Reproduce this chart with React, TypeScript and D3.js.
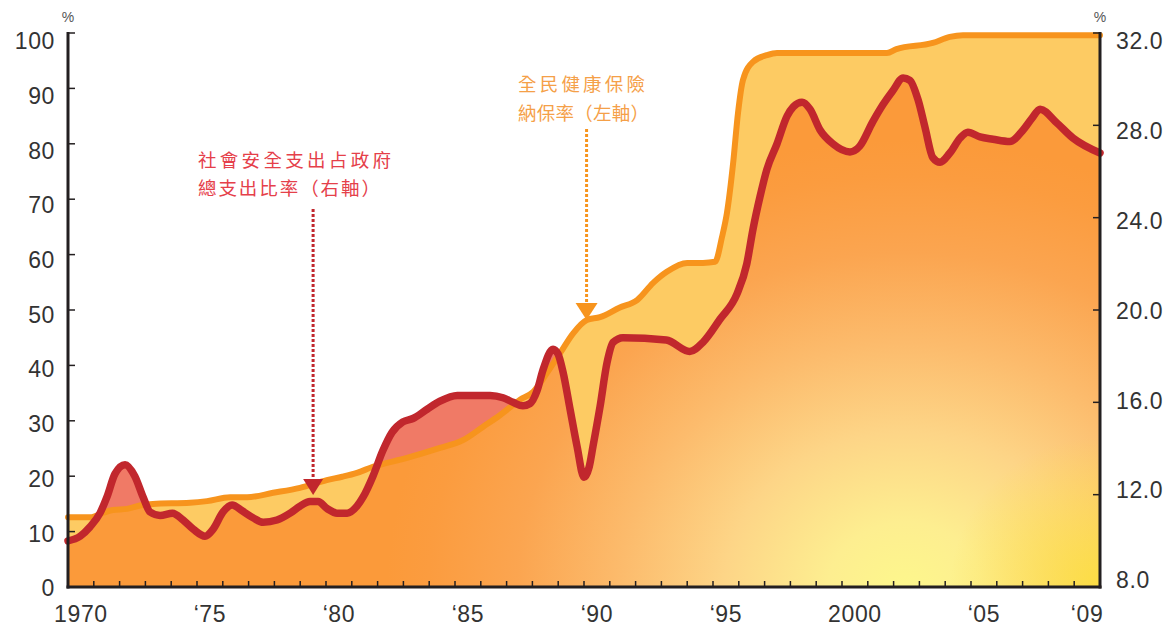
import React from 'react';
import * as d3 from 'd3';

// 全民健康保險納保率 (left axis, %)
const coverageYears = [
  1970.0, 1970.91, 1971.36, 1971.74, 1972.29, 1972.87, 1973.29, 1974.73, 1975.39, 1976.28,
  1976.94, 1977.95, 1978.99, 1980.03, 1980.63, 1981.2, 1981.82, 1983.14, 1984.42, 1985.31,
  1986.08, 1986.74, 1987.52, 1988.03, 1988.56, 1989.07, 1989.58, 1990.11, 1990.62, 1991.37,
  1992.06, 1992.68, 1993.21, 1994.0, 1994.61, 1995.08, 1995.35, 1995.54, 1995.78, 1995.97,
  1996.16, 1996.55, 1997.09, 1997.48, 2001.74, 2002.11, 2003.52, 2004.18, 2004.69, 2010.0,
];
const coverageRates = [
  12.6, 12.6, 13.4, 13.9, 14.1, 14.8, 15.0, 15.2, 15.5, 16.2,
  16.2, 17.0, 17.9, 19.3, 19.9, 20.6, 21.7, 23.3, 25.1, 26.5,
  28.9, 31.0, 33.8, 35.2, 38.6, 42.2, 45.8, 48.2, 48.7, 50.4,
  51.8, 54.9, 56.9, 58.5, 58.5, 58.7, 63.2, 67.5, 76.5, 85.6,
  91.5, 94.8, 96.0, 96.4, 96.4, 97.1, 98.2, 99.3, 99.6, 99.6,
];

// 社會安全支出占政府總支出比率 (right axis, %)
const spendingYears = [
  1970.0, 1970.47, 1970.85, 1971.24, 1971.51, 1971.82, 1972.21, 1972.59, 1972.91, 1973.18,
  1973.57, 1974.05, 1974.46, 1974.86, 1975.31, 1975.62, 1976.01, 1976.36, 1976.75, 1977.17,
  1977.56, 1978.1, 1978.61, 1978.99, 1979.38, 1979.69, 1980.04, 1980.43, 1980.82, 1981.2,
  1981.44, 1981.82, 1982.2, 1982.56, 1982.98, 1983.37, 1983.92, 1984.42, 1985.09, 1985.7,
  1986.36, 1986.86, 1987.25, 1987.63, 1987.91, 1988.18, 1988.41, 1988.8, 1988.99, 1989.19,
  1989.46, 1989.73, 1990.0, 1990.2, 1990.35, 1990.62, 1990.89, 1991.13, 1991.51, 1993.19,
  1994.1, 1994.61, 1995.27, 1995.93, 1996.31, 1996.55, 1996.82, 1997.09, 1997.48, 1997.87,
  1998.11, 1998.45, 1998.76, 1999.15, 1999.65, 2000.31, 2000.69, 2001.19, 2001.59, 2001.97,
  2002.37, 2002.63, 2002.95, 2003.22, 2003.52, 2003.8, 2004.18, 2004.58, 2004.88, 2005.35,
  2005.85, 2006.51, 2007.02, 2007.36, 2007.68, 2008.33, 2008.95, 2010.0,
];
const spendingShares = [
  10.0, 10.2, 10.6, 11.2, 11.9, 12.9, 13.3, 12.8, 11.9, 11.25,
  11.1, 11.2, 10.9, 10.5, 10.2, 10.5, 11.25, 11.55, 11.3, 11.0,
  10.8, 10.9, 11.2, 11.5, 11.7, 11.7, 11.4, 11.2, 11.2, 11.5,
  11.9, 12.8, 13.9, 14.7, 15.15, 15.3, 15.7, 16.05, 16.3, 16.3,
  16.3, 16.2, 16.0, 15.85, 15.95, 16.5, 17.4, 18.3, 18.1, 17.3,
  15.7, 14.1, 12.75, 13.2, 14.1, 15.8, 17.7, 18.6, 18.8, 18.7,
  18.2, 18.6, 19.6, 20.7, 22.0, 23.5, 24.9, 26.1, 27.2, 28.4,
  28.8, 29.0, 28.7, 27.8, 27.2, 26.85, 27.1, 28.15, 28.9, 29.5,
  30.05, 29.95, 29.1, 27.9, 26.6, 26.4, 26.8, 27.45, 27.7, 27.5,
  27.4, 27.3, 27.8, 28.3, 28.7, 28.1, 27.45, 26.8,
];

const leftTicks = [0, 10, 20, 30, 40, 50, 60, 70, 80, 90, 100];
const rightTicks = [8, 12, 16, 20, 24, 28, 32];
const rightTickLabels = ['8.0', '12.0', '16.0', '20.0', '24.0', '28.0', '32.0'];
const xLabelYears = [1970, 1975, 1980, 1985, 1990, 1995, 2000, 2005, 2009];
const xLabelTexts = ['1970', '‘75', '‘80', '‘85', '‘90', '‘95', '2000', '‘05', '‘09'];

const spendingNoteLines = ['社會安全支出占政府', '總支出比率（右軸）'];
const coverageNoteLines = ['全民健康保險', '納保率（左軸）'];

type Pt = { t: number; v: number };

export default function App() {
  const W = 1174;
  const H = 628;
  const x = d3.scaleLinear().domain([1970, 2010]).range([68, 1100]);
  const yL = d3.scaleLinear().domain([0, 100]).range([587, 33]);
  const yR = d3.scaleLinear().domain([8, 32]).range([587, 33]);
  // label placement scales (labels sit slightly inside the tick span, as in the original)
  const yLabL = d3.scaleLinear().domain([0, 100]).range([588, 41]);
  const yLabR = d3.scaleLinear().domain([8, 32]).range([580, 41]);

  const cov: Pt[] = coverageYears.map((t, i) => ({ t, v: coverageRates[i] }));
  const sp: Pt[] = spendingYears.map((t, i) => ({ t, v: spendingShares[i] }));
  const curve = d3.curveMonotoneX;

  const covArea = d3.area<Pt>().x(d => x(d.t)).y0(yL(0)).y1(d => yL(d.v)).curve(curve)(cov) || '';
  const covLine = d3.line<Pt>().x(d => x(d.t)).y(d => yL(d.v)).curve(curve)(cov) || '';
  const spArea = d3.area<Pt>().x(d => x(d.t)).y0(yR(8)).y1(d => yR(d.v)).curve(curve)(sp) || '';
  const spLine = d3.line<Pt>().x(d => x(d.t)).y(d => yR(d.v)).curve(curve)(sp) || '';

  const yearTicks = d3.range(1971, 2010);
  const axisColor = '#231f20';
  const labelColor = '#333';
  const numFont = '"Liberation Sans", Arial, sans-serif';
  const cjkFont = '"Noto Sans CJK TC", "Noto Sans CJK SC", sans-serif';

  const redArrowX = x(1979.5);
  const orgArrowX = x(1990.1);

  return (
    <svg width={W} height={H} viewBox={`0 0 ${W} ${H}`}
      style={{ position: 'absolute', left: 0, top: 0, display: 'block', background: '#fff' }}>
      <defs>
        <clipPath id="belowCoverage">
          <path d={covArea} />
        </clipPath>
        <radialGradient id="glow" gradientUnits="userSpaceOnUse" cx={905} cy={590} r={450}
          gradientTransform="translate(905 590) scale(1.15 1) translate(-905 -590)">
          <stop offset="0" stopColor="#fdf78c" />
          <stop offset="0.15" stopColor="#fdee90" />
          <stop offset="0.35" stopColor="#fdd587" />
          <stop offset="0.55" stopColor="#fcbb6c" />
          <stop offset="0.75" stopColor="#fba550" />
          <stop offset="0.92" stopColor="#fb9c3f" />
          <stop offset="1" stopColor="#fb9a3a" />
        </radialGradient>
        <radialGradient id="corner" gradientUnits="userSpaceOnUse" cx={1100} cy={587} r={150}>
          <stop offset="0" stopColor="#fcdf3c" stopOpacity={0.9} />
          <stop offset="1" stopColor="#fcdf3c" stopOpacity={0} />
        </radialGradient>
      </defs>

      {/* fills */}
      <path d={covArea} fill="#fdcb63" />
      <path d={spArea} fill="#f07a66" />
      <g clipPath="url(#belowCoverage)">
        <path d={spArea} fill="url(#glow)" />
        <path d={spArea} fill="url(#corner)" />
      </g>

      {/* lines */}
      <path d={covLine} fill="none" stroke="#f7941d" strokeWidth={6} strokeLinejoin="round" strokeLinecap="round" />
      <path d={spLine} fill="none" stroke="#c1272d" strokeWidth={7.5} strokeLinejoin="round" strokeLinecap="round" />

      {/* axes */}
      <line x1={x(1970)} x2={x(1970)} y1={yL(100) - 1} y2={yL(0) + 1.5} stroke={axisColor} strokeWidth={3} />
      <line x1={x(2010)} x2={x(2010)} y1={yR(32) - 1} y2={yR(8) + 1.5} stroke={axisColor} strokeWidth={3} />
      <line x1={x(1970) - 1.5} x2={x(2010) + 1.5} y1={yL(0)} y2={yL(0)} stroke={axisColor} strokeWidth={3} />
      {leftTicks.map(t => (
        <line key={'lt' + t} x1={x(1970)} x2={x(1970) + 7} y1={yL(t)} y2={yL(t)} stroke={axisColor} strokeWidth={1.5} />
      ))}
      {rightTicks.map(t => (
        <line key={'rt' + t} x1={x(2010)} x2={x(2010) - 7} y1={yR(t)} y2={yR(t)} stroke={axisColor} strokeWidth={1.5} />
      ))}
      {yearTicks.map(t => (
        <line key={'xt' + t} x1={x(t)} x2={x(t)} y1={yL(0)} y2={yL(0) - 6} stroke={axisColor} strokeWidth={1.5} />
      ))}

      {/* tick labels */}
      {leftTicks.map(t => (
        <text key={'ll' + t} x={55} y={yLabL(t)} dy="0.36em" textAnchor="end" fontFamily={numFont}
          fontSize={23} letterSpacing={0.6} fill={labelColor}>{t}</text>
      ))}
      {rightTicks.map((t, i) => (
        <text key={'rl' + t} x={1116} y={yLabR(t)} dy="0.36em" textAnchor="start" fontFamily={numFont}
          fontSize={23} letterSpacing={0.6} fill={labelColor}>{rightTickLabels[i]}</text>
      ))}
      {xLabelYears.map((t, i) => (
        <text key={'xl' + t} x={x(t + 0.5)} y={622} textAnchor="middle" fontFamily={numFont}
          fontSize={23} letterSpacing={0.6} fill={labelColor}>{xLabelTexts[i]}</text>
      ))}
      <text x={x(1970)} y={22} textAnchor="middle" fontFamily={numFont} fontSize={14} fill="#555">%</text>
      <text x={x(2010)} y={22} textAnchor="middle" fontFamily={numFont} fontSize={14} fill="#555">%</text>

      {/* spending annotation */}
      {spendingNoteLines.map((s, i) => (
        <text key={'sn' + i} x={198} y={167 + i * 28} fontFamily={cjkFont} fontSize={18.5}
          textLength={i === 0 ? 193 : 182} lengthAdjust="spacing" fill="#e5404a">{s}</text>
      ))}
      <line x1={redArrowX} x2={redArrowX} y1={209} y2={480} stroke="#c1272d" strokeWidth={3} strokeDasharray="3 2" />
      <path d={`M${redArrowX - 10},479 L${redArrowX + 10},479 L${redArrowX},495 Z`} fill="#c1272d" />

      {/* coverage annotation */}
      {coverageNoteLines.map((s, i) => (
        <text key={'cn' + i} x={518} y={91 + i * 29} fontFamily={cjkFont} fontSize={18.5}
          textLength={i === 0 ? 127 : 131} lengthAdjust="spacing" fill="#f5a048">{s}</text>
      ))}
      <line x1={orgArrowX} x2={orgArrowX} y1={129} y2={303} stroke="#f7941d" strokeWidth={3} strokeDasharray="3 2" />
      <path d={`M${orgArrowX - 11},303 L${orgArrowX + 11},303 L${orgArrowX},320 Z`} fill="#f7941d" />
    </svg>
  );
}
